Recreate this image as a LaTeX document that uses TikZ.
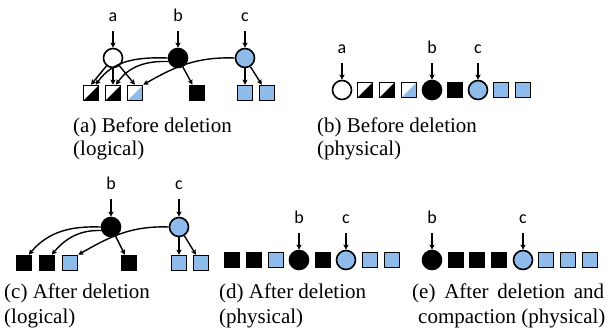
\documentclass[tikz,border=0pt]{standalone}
\usepackage{fontspec}
\setmainfont{Liberation Serif}
\newfontfamily\lblfont{Carlito}
\usetikzlibrary{arrows.meta}
\definecolor{lblue}{RGB}{143,187,235}
\begin{document}
\begin{tikzpicture}[x=1pt,y=-1pt,
  lbl/.style={font=\lblfont\fontsize{18}{20}\selectfont, inner sep=0pt, anchor=base},
  captxt/.style={font=\fontsize{21}{25}\selectfont, inner sep=0pt, anchor=base west},
  circ/.style={circle, draw, line width=1.6pt, minimum size=19pt, inner sep=0pt},
  cw/.style={circ, fill=white},
  ck/.style={circ, fill=black},
  cbl/.style={circ, fill=lblue},
  sq/.style={rectangle, draw, line width=1.5pt, minimum size=15pt, inner sep=0pt},
  sk/.style={sq, fill=black},
  sb/.style={sq, fill=lblue},
  halfk/.style={sq, fill=white, path picture={\fill[black] (path picture bounding box.south west) -- (path picture bounding box.south east) -- (path picture bounding box.north east) -- cycle;}},
  halfb/.style={sq, fill=white, path picture={\fill[lblue] (path picture bounding box.south west) -- (path picture bounding box.south east) -- (path picture bounding box.north east) -- cycle;}},
  arr/.style={line width=1.4pt, -{Stealth[length=5pt,width=5pt,inset=1pt]}},
  ptr/.style={arr, shorten <=10pt}
]
\useasboundingbox (0,0) rectangle (608,327);

% ---------- (a) ----------
\node[cw] (Aa) at (113,58) {};
\node[ck] (Ab) at (178,58) {};
\node[cbl] (Ac) at (245,58) {};
\node[halfk] (A1) at (91,93) {};
\node[halfk] (A2) at (113,93) {};
\node[halfb] (A3) at (135,93) {};
\node[sk] (A4) at (197,93) {};
\node[sb] (A5) at (245,93) {};
\node[sb] (A6) at (267,93) {};
\node[lbl] (Ala) at (113,21) {a};
\node[lbl] (Alb) at (178,21) {b};
\node[lbl] (Alc) at (245,21) {c};
\draw[ptr] (Ala.south) -- (Aa);
\draw[ptr] (Alb.south) -- (Ab);
\draw[ptr] (Alc.south) -- (Ac);
\draw[arr] (Aa) -- (A1.north);
\draw[arr] (Aa) -- (A2);
\draw[arr] (Aa) -- (A3.north);
\draw[arr] (Ab.180) to[out=178,in=55] (A1.60);
\draw[arr] (Ab.200) to[out=178,in=55] (A2.70);
\draw[arr] (Ab) -- (A4);
\draw[arr] (Ac.180) to[out=178,in=30] (A3.45);
\draw[arr] (Ac) -- (A5);
\draw[arr] (Ac) -- (A6);
\node[captxt] (capa1) at (73,132) {(a) Before deletion};
\node[captxt] (capa2) at (73,155) {(logical)};

% ---------- (b) ----------
\node[cw] (Ba) at (342,90) {};
\node[halfk] (B1) at (365,90) {};
\node[halfk] (B2) at (387,90) {};
\node[halfb] (B3) at (409,90) {};
\node[ck] (Bb) at (432,90) {};
\node[sk] (B4) at (455,90) {};
\node[cbl] (Bc) at (478,90) {};
\node[sb] (B5) at (501,90) {};
\node[sb] (B6) at (523,90) {};
\node[lbl] (Bla) at (342,53) {a};
\node[lbl] (Blb) at (432,53) {b};
\node[lbl] (Blc) at (478,53) {c};
\draw[ptr] (Bla.south) -- (Ba);
\draw[ptr] (Blb.south) -- (Bb);
\draw[ptr] (Blc.south) -- (Bc);
\node[captxt] (capb1) at (317,132) {(b) Before deletion};
\node[captxt] (capb2) at (317,155) {(physical)};

% ---------- (c) ----------
\node[ck] (Cb) at (111,227) {};
\node[cbl] (Cc) at (179,227) {};
\node[sk] (C1) at (24,263) {};
\node[sk] (C2) at (47,263) {};
\node[sb] (C3) at (70,263) {};
\node[sk] (C4) at (129,263) {};
\node[sb] (C5) at (179,263) {};
\node[sb] (C6) at (201,263) {};
\node[lbl] (Clb) at (111,189) {b};
\node[lbl] (Clc) at (179,189) {c};
\draw[ptr] (Clb.south) -- (Cb);
\draw[ptr] (Clc.south) -- (Cc);
\draw[arr] (Cb.180) to[out=178,in=50] (C1.60);
\draw[arr] (Cb.200) to[out=178,in=50] (C2.60);
\draw[arr] (Cb) -- (C4);
\draw[arr] (Cc.180) to[out=178,in=30] (C3.45);
\draw[arr] (Cc) -- (C5);
\draw[arr] (Cc) -- (C6);
\node[captxt] (capc1) at (4,298) {(c) After deletion};
\node[captxt] (capc2) at (4,323) {(logical)};

% ---------- (d) ----------
\node[sk] (D1) at (232,260) {};
\node[sk] (D2) at (254,260) {};
\node[sb] (D3) at (276,260) {};
\node[ck] (Db) at (299,260) {};
\node[sk] (D4) at (323,260) {};
\node[cbl] (Dc) at (346,260) {};
\node[sb] (D5) at (370,260) {};
\node[sb] (D6) at (392,260) {};
\node[lbl] (Dlb) at (299,223) {b};
\node[lbl] (Dlc) at (346,223) {c};
\draw[ptr] (Dlb.south) -- (Db);
\draw[ptr] (Dlc.south) -- (Dc);
\node[captxt] (capd1) at (219,298) {(d) After deletion};
\node[captxt] (capd2) at (219,323) {(physical)};

% ---------- (e) ----------
\node[ck] (Eb) at (432,260) {};
\node[sk] (E1) at (456,260) {};
\node[sk] (E2) at (477,260) {};
\node[sk] (E3) at (499,260) {};
\node[cbl] (Ec) at (523,260) {};
\node[sb] (E4) at (546,260) {};
\node[sb] (E5) at (568,260) {};
\node[sb] (E6) at (590,260) {};
\node[lbl] (Elb) at (432,223) {b};
\node[lbl] (Elc) at (523,223) {c};
\draw[ptr] (Elb.south) -- (Eb);
\draw[ptr] (Elc.south) -- (Ec);
\node[captxt] (cape1) at (412,298) {\makebox[192pt][s]{(e) After deletion and}};
\node[captxt] (cape2) at (418,323) {compaction (physical)};
\end{tikzpicture}
\end{document}
